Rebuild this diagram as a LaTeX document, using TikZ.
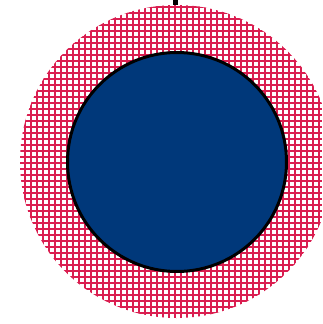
\documentclass[tikz,border=0pt]{standalone}
\definecolor{hatch}{RGB}{218,30,80}
\definecolor{navy}{RGB}{0,56,122}
\begin{document}
\begin{tikzpicture}[x=1pt,y=-1pt,
  gridline/.style={draw=hatch,line width=1.1pt},
  core/.style={circle,draw=black,line width=3pt,fill=navy,minimum size=219pt,inner sep=0pt}]
\useasboundingbox (0,0) rectangle (322,324);
\begin{scope}
  \clip (0,0) rectangle (322,324);
  \clip (176.5,161.5) circle (156.5);
  \foreach \i in {0,...,54} {
    \draw[gridline] (\i*6+1,0) -- (\i*6+1,324);
    \draw[gridline] (0,\i*6+1) -- (322,\i*6+1);
  }
\end{scope}
\node[core] (c) at (177,162) {};
\coordinate (t) at (175,0);
\draw[line width=5pt] (t) -- ++(0,5);
\end{tikzpicture}
\end{document}
